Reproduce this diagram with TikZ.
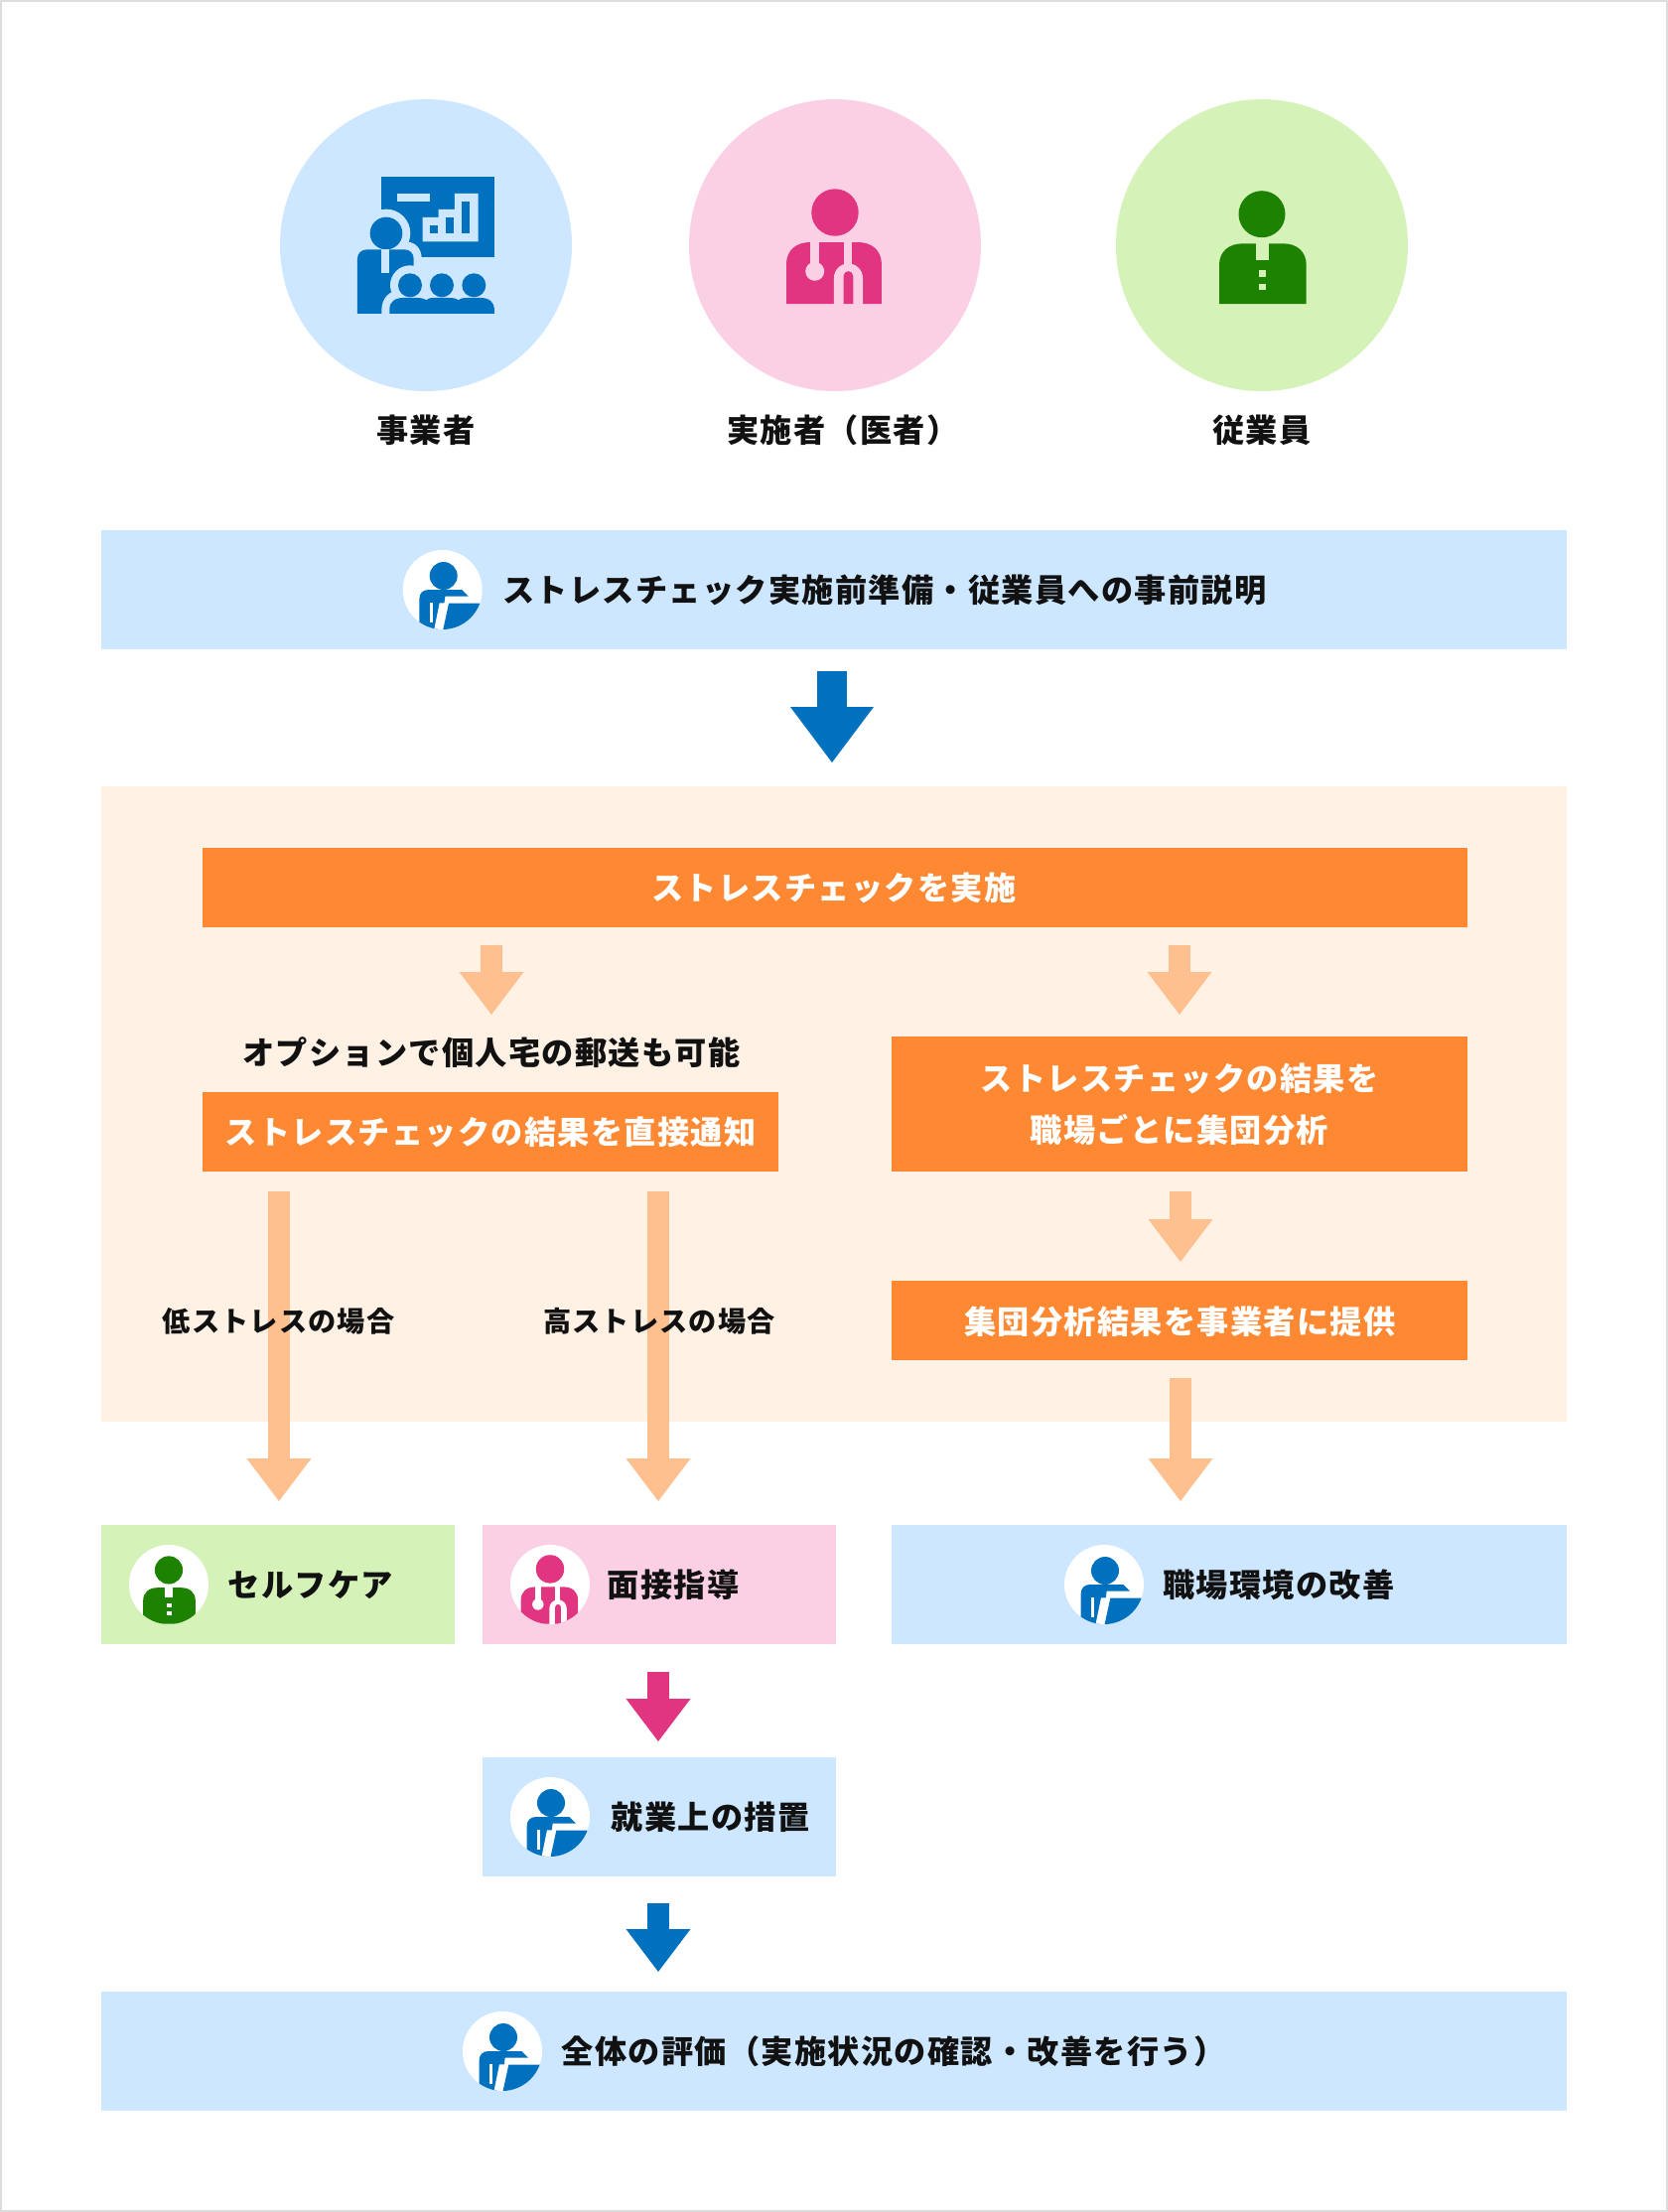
\documentclass[tikz,border=0pt]{standalone}
\usepackage{fontspec}
\setmainfont{Noto Sans CJK JP}[LetterSpace=4]
\usetikzlibrary{arrows.meta}
\definecolor{cblue}{HTML}{0071BF}
\definecolor{lblue}{HTML}{CCE7FF}
\definecolor{cpink}{HTML}{E13582}
\definecolor{lpink}{HTML}{FBD0E5}
\definecolor{cgreen}{HTML}{1C8200}
\definecolor{lgreen}{HTML}{D5F2B8}
\definecolor{corange}{HTML}{FF8833}
\definecolor{lorange}{HTML}{FFF2E5}
\definecolor{aorange}{HTML}{FFC08F}
\definecolor{ink}{HTML}{111111}
\definecolor{frame}{HTML}{DDDDDD}
\tikzset{
  x=0.5pt,y=-0.5pt,
  pxsize/.style 2 args={minimum width=#1*0.5pt,minimum height=#2*0.5pt,inner sep=0pt,outer sep=0pt},
  bubble/.style={circle,inner sep=0pt,outer sep=0pt,minimum size=294*0.5pt},
  lbl/.style={font=\fontsize{16.1}{20}\selectfont\bfseries,text=ink,inner sep=0pt},
  lblw/.style={font=\fontsize{16.1}{26}\selectfont\bfseries,text=white,inner sep=0pt,align=center},
  lblsmall/.style={font=\fontsize{14.1}{20}\selectfont\bfseries,text=ink,inner sep=0pt},
  bigarrow/.style={line width=15pt,draw=#1,-{Triangle[width=42pt,length=28pt,inset=0pt,line width=0pt]}},
  midarrow/.style={line width=11pt,draw=#1,-{Triangle[width=32.5pt,length=21.5pt,inset=0pt,line width=0pt]}},
}
% icons drawn in their own pixel coordinates
\newcommand{\EmployeeIcon}[1]{%
  \fill[cgreen] (1271,215.7) circle (23.5);
  \fill[cgreen] (1228,306) -- (1228,267) .. controls (1228,253) and (1238,245.3) .. (1252,245.3) -- (1292,245.3) .. controls (1306,245.3) and (1315.7,253) .. (1315.7,267) -- (1315.7,306) -- cycle;
  \fill[#1] (1264.8,240) rectangle (1278,262);
  \fill[#1] (1268,272.3) rectangle (1275.4,279);
  \fill[#1] (1268,285.7) rectangle (1275.4,292.3);
}
\newcommand{\DoctorIcon}[1]{%
  \fill[cpink] (841,214) circle (23.7);
  \fill[cpink] (792,306) -- (792,266) .. controls (792,252) and (802,244) .. (816,244) -- (864,244) .. controls (878,244) and (887.9,252) .. (887.9,266) -- (887.9,306) -- cycle;
  \fill[#1] (816.1,240) rectangle (825.3,270);
  \fill[#1] (820.7,273.3) circle (9.5);
  \fill[#1] (849.6,240) rectangle (858.3,270);
  \fill[#1] (839.9,309) -- (839.9,280) arc (180:360:14.55) -- (869,309) -- cycle;
  \fill[cpink] (849.6,306) -- (849.6,278) arc (180:360:4.85) -- (859.3,306) -- cycle;
}
\newcommand{\StaffIcon}[2]{% centre x, centre y: white disc with the staff figure, clipped
  \begin{scope}[shift={(#1,#2)},scale=0.3333,shift={(-197,-192)}]
    \fill[white] (197,192) circle (120);
    \clip (197,192) circle (120);
    \fill[cblue] (200,150) circle (42);
    \fill[cblue] (127,320) -- (127,220) .. controls (127,202) and (138,192) .. (155,192) -- (255,192) -- (275,212) -- (205,212) -- (190,320) -- cycle;
    \fill[cblue] (216,233) -- (320,233) -- (320,320) -- (197,320) -- cycle;
    \fill[white] (158,230) rectangle (168,292);
    \fill[white] (188,232) -- (206,232) -- (192,320) -- (170,320) -- cycle;
  \end{scope}
}
\newcommand{\SmallIcon}[4]{% centre x, centre y, figure macro, shift to its own coordinates
  \begin{scope}
    \fill[white] (#1,#2) circle (40);
    \clip (#1,#2) circle (40);
    \begin{scope}[shift={(#1,#2)},scale=0.6,#4]
      #3
    \end{scope}
  \end{scope}
}
\begin{document}
\begin{tikzpicture}
\useasboundingbox (0,0) rectangle (1680,2228);
\fill[white] (0,0) rectangle (1680,2228);
\draw[frame,line width=1pt] (1,1) rectangle (1679,2227);

% bubbles and their icons
\node[bubble,fill=lblue] (owner) at (429,247) {};
\node[bubble,fill=lpink] (doctor) at (841,247) {};
\node[bubble,fill=lgreen] (worker) at (1271,247) {};
\begin{scope}[shift={(260,90)},scale=0.3333]
  \fill[cblue] (373,264) rectangle (714,508);
  \fill[lblue] (421,315) rectangle (519,338);
  \fill[lblue] (497,460) -- (497,387) -- (545,387) -- (545,363) -- (594,363) -- (594,315) -- (665,315) -- (665,460) -- cycle;
  \fill[cblue] (519,411) rectangle (544,436);
  \fill[cblue] (568,387) rectangle (592,436);
  \fill[cblue] (616,339) rectangle (640,436);
  \fill[lblue] (387,435) circle (73);
  \fill[lblue] (280,679) -- (280,460) -- (445,460) .. controls (475,460) and (494,482) .. (494,510) -- (494,679) -- cycle;
  \fill[cblue] (387,435) circle (49);
  \fill[cblue] (300,678) -- (300,512) .. controls (300,495) and (312,484) .. (330,484) -- (442,484) .. controls (458,484) and (470,495) .. (470,512) -- (470,678) -- cycle;
  \fill[lblue] (373,484) rectangle (397,555);
  \fill[lblue] (459,592) circle (60);
  \fill[lblue] (373,679) -- (373,668) .. controls (373,632) and (395,606) .. (435,606) -- (530,606) -- (530,679) -- cycle;
  \fill[cblue] (459,592) circle (36);
  \fill[cblue] (555,592) circle (36);
  \fill[cblue] (652,592) circle (36);
  \fill[cblue] (397,678) -- (397,665) .. controls (397,640) and (415,630) .. (440,630) -- (480,630) .. controls (495,630) and (505,634) .. (507,637) .. controls (512,632) and (520,630) .. (535,630) -- (575,630) .. controls (590,630) and (600,632) .. (604,637) .. controls (610,632) and (620,630) .. (632,630) -- (672,630) .. controls (700,630) and (714,645) .. (714,665) -- (714,678) -- cycle;
\end{scope}
\DoctorIcon{lpink}
\EmployeeIcon{lgreen}
\node[lbl] (t1) at (429,433) {事業者};
\node[lbl] (t2) at (849,433) {実施者（医者）};
\node[lbl] (t3) at (1271,433) {従業員};

% preparation bar
\node[pxsize={1476}{120},fill=lblue] (prep) at (840,594) {};
\StaffIcon{445.7}{594}
\node[lbl] (tprep) at (891,594) {ストレスチェック実施前準備・従業員への事前説明};

% implementation panel
\node[pxsize={1476}{640},fill=lorange] (panel) at (840,1112) {};
\node[pxsize={1274}{80},fill=corange] (run) at (841,894) {};
\node[lblw] (trun) at (840,894) {ストレスチェックを実施};
\node[lbl] (opt) at (495,1060) {オプションで個人宅の郵送も可能};
\node[pxsize={580}{80},fill=corange,lblw] (direct) at (494,1140) {ストレスチェックの結果を直接通知};
\node[pxsize={580}{136},fill=corange,lblw] (group) at (1188,1112) {ストレスチェックの結果を\\職場ごとに集団分析};
\node[pxsize={580}{80},fill=corange] (provide) at (1188,1330) {};
\node[lblw] (tprovide) at (1188.5,1331.5) {集団分析結果を事業者に提供};

% outcomes
\node[pxsize={356}{120},fill=lgreen] (self) at (280,1596) {};
\node[pxsize={356}{120},fill=lpink] (meet) at (664,1596) {};
\node[pxsize={680}{120},fill=lblue] (env) at (1238,1596) {};
\node[pxsize={356}{120},fill=lblue] (measure) at (664,1830) {};
\node[pxsize={1476}{120},fill=lblue] (eval) at (840,2066) {};

\SmallIcon{170}{1596}{\EmployeeIcon{white}}{shift={(-1271,-240)}}
\SmallIcon{554}{1596}{\DoctorIcon{white}}{shift={(-841,-240)}}
\StaffIcon{1112}{1596}
\StaffIcon{554}{1830}
\StaffIcon{506}{2066}
\node[lbl] (tself) at (313,1596) {セルフケア};
\node[lbl] (tmeet) at (678,1596) {面接指導};
\node[lbl] (tenv) at (1288,1596) {職場環境の改善};
\node[lbl] (tmeasure) at (715.6,1830) {就業上の措置};
\node[lbl] (teval) at (900,2066) {全体の評価（実施状況の確認・改善を行う）};

% arrow end points
\coordinate (a1s) at (838,676); \coordinate (a1e) at (838,768);
\coordinate (a2s) at (495,952); \coordinate (a2e) at (495,1022);
\coordinate (a3s) at (1188,952); \coordinate (a3e) at (1188,1022);
\coordinate (a4s) at (1189,1200); \coordinate (a4e) at (1189,1271);
\coordinate (a5s) at (1189,1388); \coordinate (a5e) at (1189,1512);
\coordinate (a6s) at (281,1200); \coordinate (a6e) at (281,1512);
\coordinate (a7s) at (663,1200); \coordinate (a7e) at (663,1512);
\coordinate (a8s) at (663,1684); \coordinate (a8e) at (663,1754);
\coordinate (a9s) at (663,1917); \coordinate (a9e) at (663,1986);

\draw[bigarrow=cblue] (a1s) -- (a1e);
\draw[midarrow=aorange] (a2s) -- (a2e);
\draw[midarrow=aorange] (a3s) -- (a3e);
\draw[midarrow=aorange] (a4s) -- (a4e);
\draw[midarrow=aorange] (a5s) -- (a5e);
\draw[midarrow=aorange] (a6s) -- (a6e);
\draw[midarrow=aorange] (a7s) -- (a7e);
\draw[midarrow=cpink] (a8s) -- (a8e);
\draw[midarrow=cblue] (a9s) -- (a9e);

\node[lblsmall] (tlow) at (280.5,1330.5) {低ストレスの場合};
\node[lblsmall] (thigh) at (664,1330.5) {高ストレスの場合};
\end{tikzpicture}
\end{document}
